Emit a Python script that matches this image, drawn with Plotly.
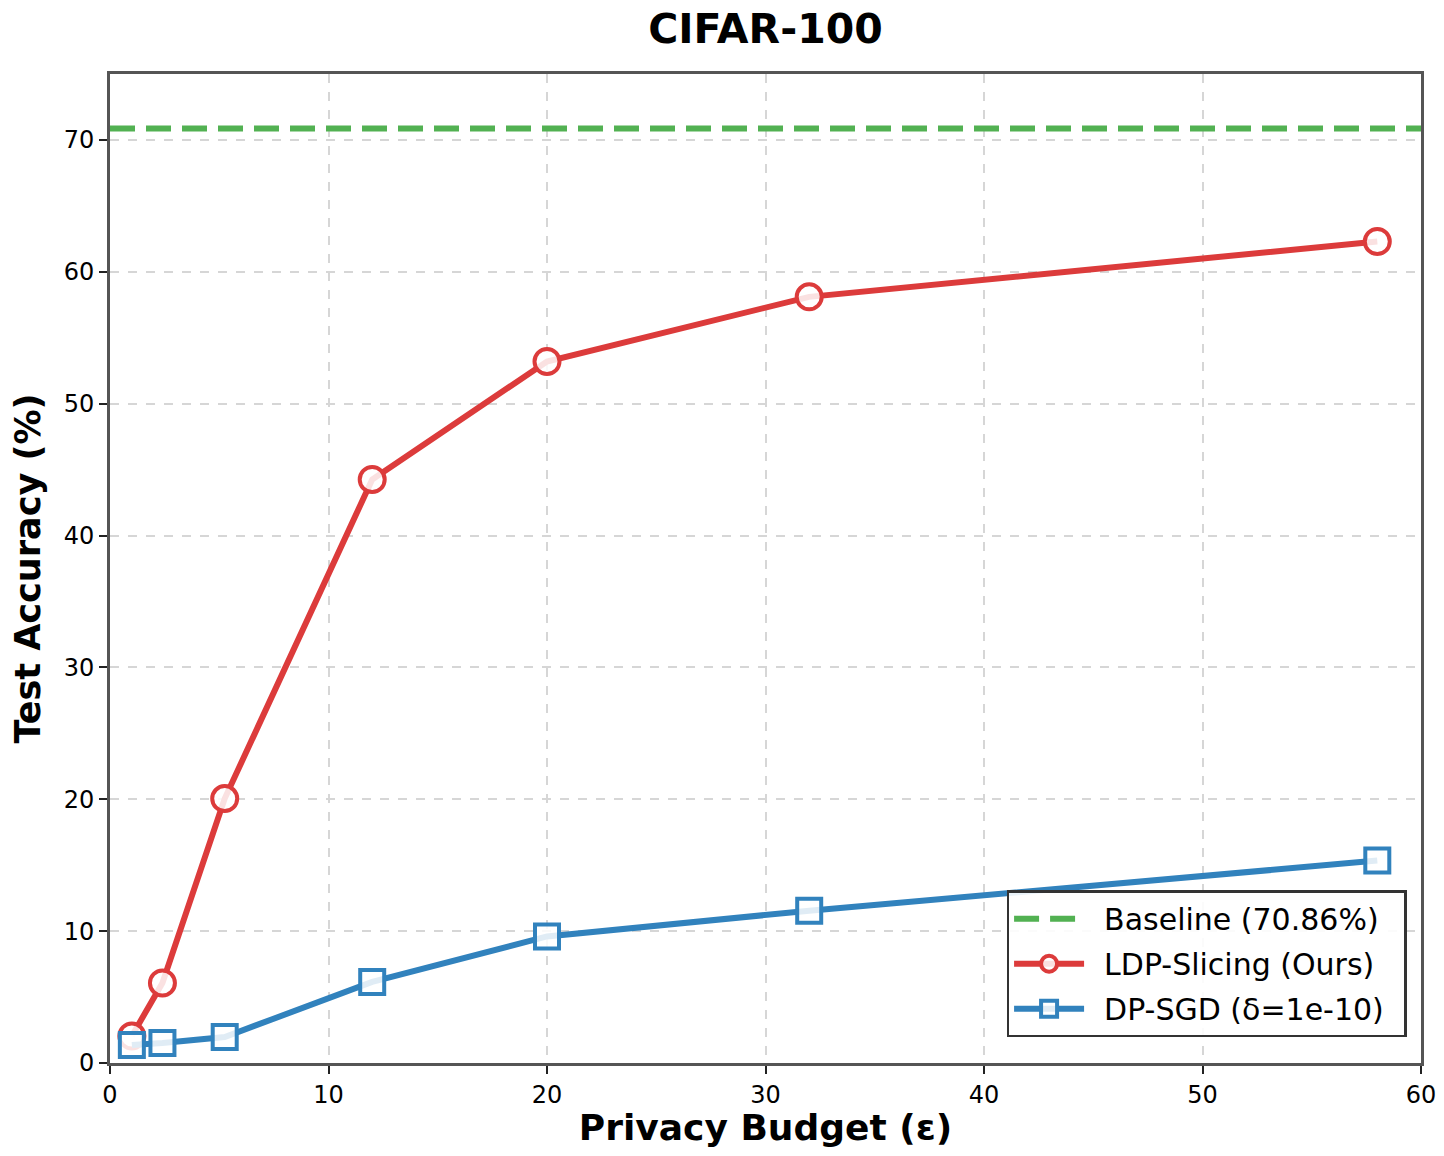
import plotly.graph_objects as go

eps = [1, 2.4, 5.25, 12, 20, 32, 58]
ldp_acc = [2.05, 6.07, 20.05, 44.25, 53.2, 58.1, 62.3]
dpsgd_acc = [1.37, 1.52, 1.97, 6.15, 9.6, 11.55, 15.35]
baseline = 70.86

RED = "#dc3b3b"
BLUE = "#3182bd"
GREEN = "#52b152"
FONT = "DejaVu Sans"
SP = "\u2002"

fig = go.Figure()
fig.add_trace(go.Scatter(
    x=[0, 60], y=[baseline, baseline], mode="lines",
    name=SP + "Baseline (70.86%)" + SP, legendgroup="a",
    line=dict(color=GREEN, width=6, dash="25px,11px"),
))
fig.add_trace(go.Scatter(
    x=eps, y=ldp_acc, mode="lines+markers", name=SP + "LDP-Slicing (Ours)" + SP,
    legendgroup="b",
    line=dict(color=RED, width=6),
    marker=dict(symbol="circle", size=25, color="rgba(255,255,255,0.85)",
                line=dict(color=RED, width=4)),
))
fig.add_trace(go.Scatter(
    x=eps, y=dpsgd_acc, mode="lines+markers", name=SP + "DP-SGD (δ=1e-10)" + SP,
    legendgroup="c",
    line=dict(color=BLUE, width=6),
    marker=dict(symbol="square", size=24, color="rgba(255,255,255,0.85)",
                line=dict(color=BLUE, width=4)),
))

axis_common = dict(
    showline=True, mirror=True, linecolor="#555555", linewidth=3,
    ticks="outside", ticklen=8, tickwidth=2, tickcolor="#222222",
    showgrid=True, gridcolor="#d6d6d6", gridwidth=1.5, griddash="dash",
    zeroline=False, automargin=False, ticklabeloverflow="allow",
    tickfont=dict(family=FONT, size=24, color="black"),
)

fig.update_layout(
    width=1436, height=1140,
    margin=dict(l=102, r=23, t=66, b=85),
    plot_bgcolor="white", paper_bgcolor="white",
    title=dict(text="CIFAR-100", x=0.5, xref="paper", xanchor="center",
               y=1 - 6 / 1140, yanchor="top", automargin=False,
               font=dict(family=FONT, size=41, color="black", weight="bold")),
    xaxis=dict(range=[0, 60], dtick=10,
               title=dict(text="Privacy Budget (ε)", standoff=10,
                          font=dict(family=FONT, size=36, color="black", weight="bold")),
               **axis_common),
    yaxis=dict(range=[0, 75], tickvals=[0, 10, 20, 30, 40, 50, 60, 70],
               title=dict(text="Test Accuracy (%)", standoff=14,
                          font=dict(family=FONT, size=35, color="black", weight="bold")),
               **axis_common),
    legend=dict(x=0.989, y=0.026, xanchor="right", yanchor="bottom",
                bgcolor="rgba(255,255,255,0.9)", bordercolor="#333333", borderwidth=2.5,
                font=dict(family=FONT, size=30, color="black"),
                itemwidth=70, tracegroupgap=3),
    showlegend=True,
)

fig.write_html("out.html")
